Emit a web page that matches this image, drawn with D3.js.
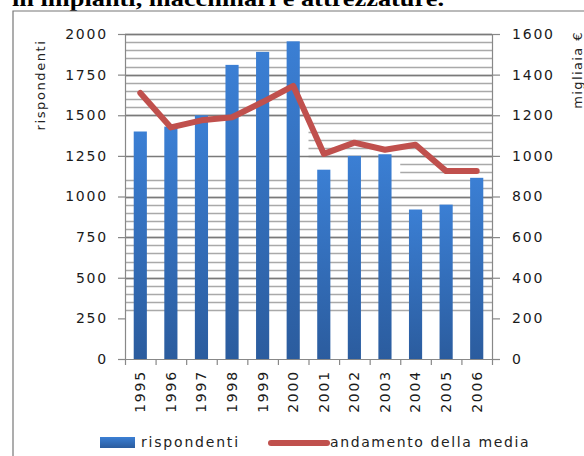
<!DOCTYPE html>
<html>
<head>
<meta charset="utf-8">
<script src="https://cdn.jsdelivr.net/npm/d3@7"></script>
<style>
  body { margin: 0; background: #fff; }
  svg { display: block; }
  text { font-family: "DejaVu Sans", sans-serif; fill: #222; }
</style>
</head>
<body>
<svg id="chart" width="584" height="456"></svg>
<script>
let years = ['1995', '1996', '1997', '1998', '1999', '2000',
             '2001', '2002', '2003', '2004', '2005', '2006'];

// left axis series (bars)
let respondents = [1400, 1430, 1500, 1810, 1890, 1955, 1165, 1250, 1260, 920, 950, 1115];

// right axis series (line), migliaia di euro
let averageTrend = [1310, 1140, 1175, 1190, 1265, 1345, 1010, 1065, 1030, 1055, 925, 925];

let leftTicks = [0, 250, 500, 750, 1000, 1250, 1500, 1750, 2000];
let rightTicks = [0, 200, 400, 600, 800, 1000, 1200, 1400, 1600];

let seriesNames = ['rispondenti', 'andamento della media'];
let axisTitles = ['rispondenti', 'migliaia €'];
let titleText = 'in impianti, macchinari e attrezzature.';

// plot box
let plotL = 125, plotR = 492, plotT = 34, plotB = 359;

let svg = d3.select('#chart');

let x = d3.scaleBand()
          .domain(years)
          .range([plotL, plotR])
          .paddingInner(0.57)
          .paddingOuter(0.285);

let yL = d3.scaleLinear().domain([0, 2000]).range([plotB, plotT]);
let yR = d3.scaleLinear().domain([0, 1600]).range([plotB, plotT]);

// gradient for the bars
let grad = svg.append('defs')
              .append('linearGradient')
              .attr('id', 'barGrad')
              .attr('x1', 0).attr('y1', 0).attr('x2', 0).attr('y2', 1);
grad.append('stop').attr('offset', '0%').attr('stop-color', '#3b7fd4');
grad.append('stop').attr('offset', '100%').attr('stop-color', '#2b5c9e');

// title, cut off at the top of the picture like in the scan
svg.append('text')
   .attr('x', 12)
   .attr('y', 6)
   .attr('textLength', 432)
   .attr('lengthAdjust', 'spacingAndGlyphs')
   .style('font-family', '"Liberation Serif", serif')
   .style('font-weight', 'bold')
   .style('font-size', '21px')
   .style('fill', '#000')
   .text(titleText);

// outer frame
svg.append('path')
   .attr('d', 'M13,456 V11 H584')
   .attr('fill', 'none')
   .attr('stroke', '#777')
   .attr('stroke-width', 1.2);

// minor gridlines: the scanned chart only shows them in some parts
let bandStart = d => x(d) - x.step() * x.paddingInner() / 2;
let minorVals = d3.range(300, 2001, 50);
let minorSpan = v => {
  if (v >= 1500 || v < 1150) return [plotL, plotR];
  if (v >= 1250) return [bandStart('2001'), plotR];
  return [bandStart('2004'), plotR];
};

let grid = svg.append('g');
grid.selectAll('line.minor')
    .data(minorVals)
    .join('line')
    .attr('class', 'minor')
    .attr('x1', d => minorSpan(d)[0])
    .attr('x2', d => minorSpan(d)[1])
    .attr('y1', d => Math.round(yL(d)) + 0.5)
    .attr('y2', d => Math.round(yL(d)) + 0.5)
    .attr('stroke', '#a9a9a9')
    .attr('stroke-width', 1.3);

grid.selectAll('line.major')
    .data(leftTicks.filter(d => d >= 500))
    .join('line')
    .attr('class', 'major')
    .attr('x1', plotL)
    .attr('x2', plotR)
    .attr('y1', d => Math.round(yL(d)) + 0.5)
    .attr('y2', d => Math.round(yL(d)) + 0.5)
    .attr('stroke', '#7a7a7a')
    .attr('stroke-width', 1.4);

// bars
svg.append('g')
   .selectAll('rect')
   .data(respondents)
   .join('rect')
   .attr('x', (d, i) => x(years[i]))
   .attr('width', x.bandwidth())
   .attr('y', d => yL(d))
   .attr('height', d => plotB - yL(d))
   .attr('fill', 'url(#barGrad)');

// line
let lineGen = d3.line()
                .x((d, i) => x(years[i]) + x.bandwidth() / 2)
                .y(d => yR(d));

svg.append('path')
   .datum(averageTrend)
   .attr('d', lineGen)
   .attr('fill', 'none')
   .attr('stroke', '#c0504d')
   .attr('stroke-width', 6)
   .attr('stroke-linejoin', 'round')
   .attr('stroke-linecap', 'round');

// axes
function styleAxis(g) {
  g.select('.domain').attr('stroke', '#888').attr('stroke-width', 1.2);
  g.selectAll('.tick line').attr('stroke', '#888').attr('stroke-width', 1.2);
  g.selectAll('text')
   .style('font-size', '14px')
   .style('letter-spacing', '1.8px')
   .style('fill', '#1a1a1a');
}

svg.append('g')
   .attr('transform', `translate(${plotL},0)`)
   .call(d3.axisLeft(yL).tickValues(leftTicks).tickFormat(d3.format('d'))
           .tickSize(7).tickSizeOuter(0).tickPadding(10))
   .call(styleAxis);

svg.append('g')
   .attr('transform', `translate(${plotR},0)`)
   .call(d3.axisRight(yR).tickValues(rightTicks).tickFormat(d3.format('d'))
           .tickSize(8).tickSizeOuter(0).tickPadding(12))
   .call(styleAxis);

// x axis: ticks at band edges, labels at centres
let edges = d3.scaleLinear().domain([0, years.length]).range([plotL, plotR]);
svg.append('g')
   .attr('transform', `translate(0,${plotB})`)
   .call(d3.axisBottom(edges).ticks(years.length).tickFormat('').tickSize(6).tickSizeOuter(0))
   .call(styleAxis);

svg.append('g')
   .attr('transform', `translate(0,${plotB})`)
   .call(d3.axisBottom(x).tickSize(0))
   .call(styleAxis)
   .call(g => g.select('.domain').remove())
   .selectAll('text')
   .attr('transform', 'rotate(-90)')
   .attr('text-anchor', 'end')
   .attr('x', -11)
   .attr('y', 0)
   .attr('dy', '0.35em');

// axis titles
svg.append('text')
   .attr('transform', 'translate(40,85) rotate(-90)')
   .attr('text-anchor', 'middle')
   .attr('dy', '0.35em')
   .style('font-size', '13px')
   .style('letter-spacing', '1.6px')
   .text(axisTitles[0]);

svg.append('text')
   .attr('transform', 'translate(577,70) rotate(-90)')
   .attr('text-anchor', 'middle')
   .attr('dy', '0.35em')
   .style('font-size', '13px')
   .style('letter-spacing', '1.4px')
   .text(axisTitles[1]);

// legend
let legend = svg.append('g');
legend.append('rect')
      .attr('x', 100).attr('y', 437)
      .attr('width', 35).attr('height', 11)
      .attr('fill', 'url(#barGrad)');
legend.append('text')
      .attr('x', 141).attr('y', 447)
      .style('font-size', '14px')
      .style('letter-spacing', '1.8px')
      .text(seriesNames[0]);
legend.append('line')
      .attr('x1', 271).attr('x2', 327)
      .attr('y1', 443).attr('y2', 443)
      .attr('stroke', '#c0504d')
      .attr('stroke-width', 6)
      .attr('stroke-linecap', 'round');
legend.append('text')
      .attr('x', 330).attr('y', 447)
      .style('font-size', '14px')
      .style('letter-spacing', '1.6px')
      .text(seriesNames[1]);
</script>
</body>
</html>
